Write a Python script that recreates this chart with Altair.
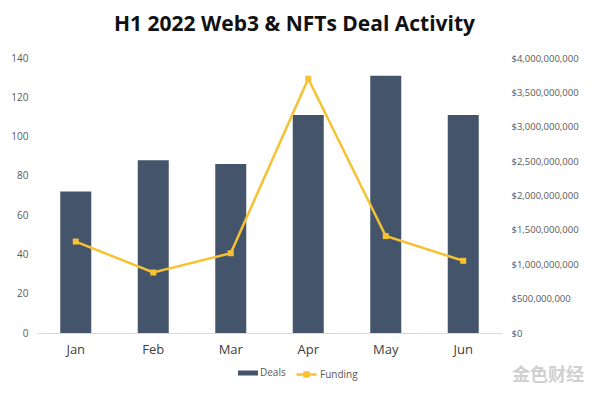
import altair as alt
import pandas as pd

months = ["Jan", "Feb", "Mar", "Apr", "May", "Jun"]
deals = [72, 88, 86, 111, 131, 111]
funding = [1.33e9, 0.88e9, 1.16e9, 3.70e9, 1.41e9, 1.05e9]

df = pd.DataFrame({"Month": months, "Deals": deals, "Funding": funding,
                   "s1": ["Deals"] * 6, "s2": ["Funding"] * 6})

BAR = "#44546A"
GOLD = "#F4C232"
FONT = "Open Sans"

x = alt.X("Month:N", sort=months, title=None,
          scale=alt.Scale(paddingInner=0.6, paddingOuter=0.3),
          axis=alt.Axis(labelAngle=0, ticks=False, domainColor="#d9d9d9", domainWidth=1,
                        labelFontSize=13, labelColor="#404040", labelPadding=10, labelFont=FONT))

bars = alt.Chart(df).mark_bar().encode(
    x=x,
    y=alt.Y("Deals:Q", title=None, scale=alt.Scale(domain=[0, 140]),
            axis=alt.Axis(values=list(range(0, 141, 20)), grid=False, domain=False, ticks=False,
                          labelFontSize=10, labelColor="#595959", labelPadding=9, labelFont=FONT)),
    color=alt.Color("s1:N", scale=alt.Scale(domain=["Deals"], range=[BAR]),
                    legend=alt.Legend(title=None, orient="none", legendX=201, legendY=305,
                                      symbolType="M-1,-0.25H1V0.25H-1Z", symbolSize=400,
                                      symbolStrokeWidth=0, labelFontSize=10, labelColor="#595959",
                                      labelFont=FONT, labelOffset=2)),
)

yr = alt.Y("Funding:Q", title=None, scale=alt.Scale(domain=[0, 4e9]),
           axis=alt.Axis(orient="right", values=[i * 5e8 for i in range(9)], format="$,.0f",
                         grid=False, domain=False, ticks=False, labelFontSize=9.5,
                         labelColor="#595959", labelPadding=9, labelFont=FONT))

line = alt.Chart(df).mark_line(strokeWidth=2.5).encode(
    x=x, y=yr,
    stroke=alt.Stroke("s2:N", scale=alt.Scale(domain=["Funding"], range=[GOLD]),
                      legend=alt.Legend(title=None, orient="none", legendX=258, legendY=305,
                                        symbolType="M-1,0H1M-0.2,-0.2H0.2V0.2H-0.2Z", symbolSize=400,
                                        symbolStrokeWidth=2.5, symbolFillColor=GOLD,
                                        labelFontSize=10, labelColor="#595959",
                                        labelFont=FONT, labelOffset=2)),
)

pts = alt.Chart(df).mark_square(size=36, opacity=1, color=GOLD, filled=True).encode(x=x, y=yr)

watermark = alt.Chart(pd.DataFrame({"t": ["金色财经"]})).mark_text(
    font="Noto Sans CJK SC", fontSize=18, color="#d0d0d0", align="left", baseline="middle",
    fontWeight="bold"
).encode(text="t:N", x=alt.value(475), y=alt.value(318))

right = alt.layer(line, pts)

chart = alt.layer(bars, right, watermark).resolve_scale(y="independent").properties(
    width=465, height=275,
    padding={"left": 29, "top": 50, "right": 90, "bottom": 55},
    autosize=alt.AutoSizeParams(type="none"),
    title=alt.Title("H1 2022 Web3 & NFTs Deal Activity", fontSize=21, fontWeight="bold",
                    font=FONT, color="#111111", dx=25, offset=18, anchor="middle"),
).configure_view(stroke=None)

chart.save("out.html", embed_options={"renderer": "svg", "actions": False})
